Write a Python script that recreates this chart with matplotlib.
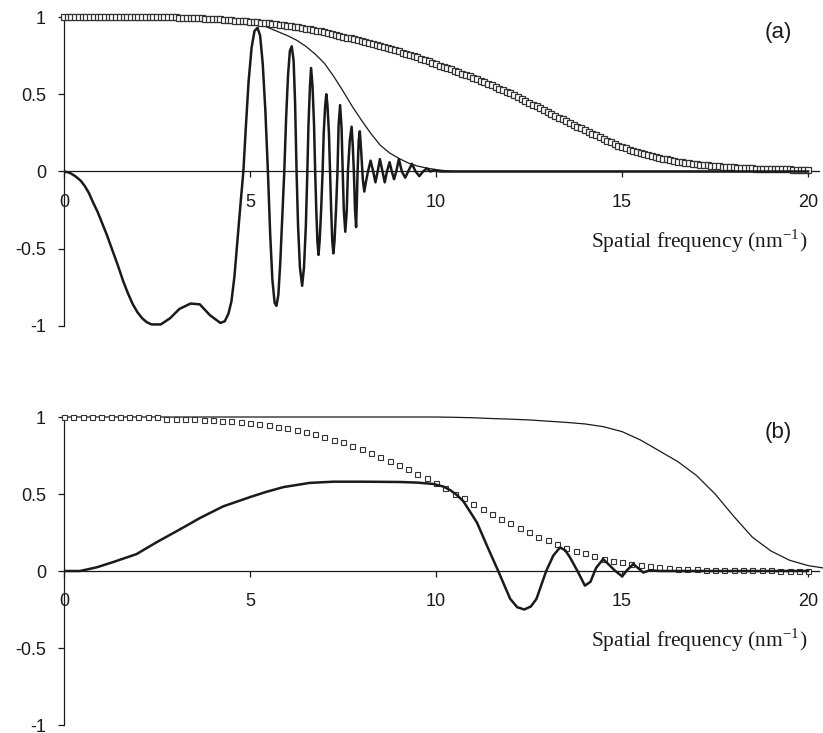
import numpy as np
import matplotlib.pyplot as plt

plt.rcParams['font.family'] = ['Liberation Sans', 'DejaVu Sans']
plt.rcParams['mathtext.fontset'] = 'stix'

# ---------------- panel (a) ----------------
# dense squares curve, x = 0, 0.1, ..., 20
sq_a_x = np.arange(201) * 0.1
sq_a_y = [1.000, 1.000, 1.000, 1.000, 1.000, 1.000, 1.000, 1.000, 1.000, 1.000,
          1.000, 1.000, 1.000, 1.000, 1.000, 1.000, 1.000, 1.000, 1.000, 1.000,
          1.000, 1.000, 1.000, 0.999, 0.999, 0.999, 0.999, 0.998, 0.998, 0.997,
          0.997, 0.996, 0.995, 0.995, 0.994, 0.993, 0.992, 0.991, 0.990, 0.988,
          0.987, 0.986, 0.984, 0.983, 0.981, 0.979, 0.977, 0.976, 0.974, 0.972,
          0.970, 0.968, 0.965, 0.963, 0.961, 0.958, 0.955, 0.953, 0.950, 0.947,
          0.944, 0.940, 0.937, 0.933, 0.929, 0.925, 0.921, 0.916, 0.912, 0.907,
          0.902, 0.896, 0.891, 0.885, 0.879, 0.873, 0.867, 0.861, 0.855, 0.848,
          0.842, 0.836, 0.829, 0.823, 0.816, 0.810, 0.803, 0.797, 0.790, 0.784,
          0.777, 0.769, 0.762, 0.754, 0.746, 0.738, 0.729, 0.721, 0.712, 0.704,
          0.695, 0.686, 0.678, 0.669, 0.661, 0.652, 0.643, 0.634, 0.625, 0.616,
          0.607, 0.597, 0.587, 0.577, 0.567, 0.557, 0.547, 0.536, 0.526, 0.515,
          0.505, 0.493, 0.481, 0.469, 0.457, 0.445, 0.433, 0.421, 0.409, 0.397,
          0.385, 0.373, 0.361, 0.349, 0.337, 0.325, 0.314, 0.302, 0.291, 0.279,
          0.268, 0.256, 0.245, 0.233, 0.222, 0.210, 0.199, 0.189, 0.178, 0.168,
          0.158, 0.150, 0.142, 0.134, 0.126, 0.118, 0.112, 0.106, 0.100, 0.094,
          0.088, 0.083, 0.078, 0.074, 0.069, 0.064, 0.061, 0.057, 0.054, 0.050,
          0.047, 0.045, 0.042, 0.040, 0.037, 0.035, 0.033, 0.031, 0.030, 0.028,
          0.026, 0.025, 0.024, 0.022, 0.021, 0.020, 0.019, 0.018, 0.018, 0.017,
          0.016, 0.015, 0.015, 0.014, 0.014, 0.013, 0.012, 0.012, 0.011, 0.011,
          0.010]

# envelope (thin line)
env_a_x = [0, 2, 4, 4.5, 5, 5.25, 5.5, 5.75, 6, 6.25, 6.5, 6.75, 7, 7.25,
           7.5, 7.75, 8, 8.25, 8.5, 8.75, 9, 9.25, 9.5, 9.75, 10, 10.25,
           10.5, 20]
env_a_y = [1.0, 1.0, 0.99, 0.98, 0.97, 0.955, 0.93, 0.905, 0.88, 0.85,
           0.81, 0.76, 0.70, 0.615, 0.52, 0.42, 0.33, 0.245, 0.17, 0.12,
           0.085, 0.055, 0.035, 0.022, 0.012, 0.005, 0.0, 0.0]

# oscillating CTF (thick line)
ctf_a_x = [0.0, 0.15, 0.3, 0.45, 0.56, 0.67, 0.78, 0.9, 1.0, 1.15, 1.3, 1.45,
           1.59, 1.72, 1.85, 1.97, 2.1, 2.22, 2.35, 2.6, 2.85,
           3.1, 3.4, 3.65, 3.92, 4.2, 4.32, 4.42, 4.5, 4.58, 4.66, 4.74,
           4.82, 4.89, 4.96, 5.04, 5.12, 5.2, 5.27, 5.34, 5.41, 5.48,
           5.54, 5.6, 5.66, 5.71, 5.76, 5.81, 5.86, 5.92,
           5.97, 6.02, 6.07, 6.12, 6.17, 6.21, 6.25,
           6.29, 6.34, 6.4, 6.45, 6.5, 6.54,
           6.57, 6.61, 6.64, 6.68, 6.72, 6.75,
           6.78, 6.81, 6.84, 6.87, 6.91, 6.95,
           6.98, 7.02, 7.05, 7.08, 7.12, 7.15,
           7.18, 7.21, 7.24, 7.27, 7.31, 7.35,
           7.38, 7.42, 7.46, 7.49, 7.52, 7.56,
           7.6, 7.63, 7.68, 7.73, 7.76, 7.79, 7.82, 7.85, 7.87, 7.89, 7.92,
           7.95, 7.99, 8.03, 8.07, 8.12, 8.17, 8.24, 8.31, 8.37, 8.43, 8.49,
           8.56, 8.62, 8.68, 8.75, 8.81, 8.87, 8.93, 9.0, 9.08, 9.17, 9.25,
           9.35, 9.45, 9.55, 9.65, 9.75, 9.85, 9.95, 10.1, 20.0]
ctf_a_y = [0.0, -0.008, -0.03, -0.06, -0.095, -0.14, -0.2, -0.26, -0.32,
           -0.41, -0.51, -0.61, -0.71, -0.79, -0.86, -0.91, -0.95, -0.975,
           -0.99, -0.99, -0.95, -0.89, -0.855, -0.86, -0.93,
           -0.98, -0.97, -0.92, -0.84, -0.68, -0.45, -0.22,
           0.0, 0.3, 0.58, 0.8, 0.91, 0.93, 0.88, 0.7, 0.4, 0.0,
           -0.4, -0.7, -0.85, -0.87, -0.8, -0.6, -0.33, 0.0,
           0.35, 0.62, 0.78, 0.81, 0.72, 0.45, 0.0,
           -0.35, -0.62, -0.74, -0.62, -0.35, 0.0,
           0.3, 0.55, 0.67, 0.55, 0.3, 0.0,
           -0.25, -0.45, -0.54, -0.45, -0.25, 0.0,
           0.25, 0.43, 0.5, 0.43, 0.25, 0.0,
           -0.25, -0.45, -0.53, -0.45, -0.25, 0.0,
           0.3, 0.43, 0.28, 0.0, -0.25, -0.39,
           -0.25, 0.0, 0.2, 0.29, 0.17, 0.0, -0.24, -0.36, -0.2, 0.0, 0.2,
           0.26, 0.12, -0.05, -0.13, -0.06, 0.0, 0.07, 0.0,
           -0.07, 0.0, 0.08, 0.0, -0.07, 0.0, 0.06, 0.0, -0.05, 0.0, 0.08, 0.0,
           -0.04, 0.0, 0.05, 0.0, -0.03, 0.0, 0.02, 0.0, 0.01, 0.0, 0.0]

# ---------------- panel (b) ----------------
# squares, x = 0, 0.25, ..., 20
sq_b_x = np.arange(81) * 0.25
sq_b_y = [1.0, 1.0, 1.0, 1.0, 1.0, 1.0, 1.0, 1.0, 1.0, 1.0, 1.0,
          0.99, 0.99, 0.99, 0.985, 0.98, 0.978, 0.975, 0.971, 0.967, 0.962,
          0.954, 0.946, 0.937, 0.927, 0.916, 0.904, 0.889, 0.87, 0.853, 0.835,
          0.813, 0.79, 0.767, 0.742, 0.717, 0.69, 0.66, 0.63, 0.601, 0.57,
          0.537, 0.502, 0.472, 0.437, 0.405, 0.37, 0.337, 0.31, 0.278, 0.252,
          0.222, 0.2, 0.177, 0.152, 0.131, 0.115, 0.095, 0.078, 0.066, 0.056,
          0.046, 0.04, 0.031, 0.024, 0.019, 0.016, 0.013, 0.011, 0.009, 0.008,
          0.007, 0.006, 0.005, 0.005, 0.004, 0.004, 0.003, 0.003, 0.003, 0.002]

env_b_x = [0, 5, 10, 10.5, 11, 11.5, 12, 12.5, 13, 13.5, 14, 14.5, 15, 15.5,
           16, 16.5, 17, 17.5, 18, 18.5, 19, 19.5, 20, 20.4]
env_b_y = [1.0, 1.0, 1.0, 0.998, 0.995, 0.99, 0.986, 0.981, 0.973, 0.965,
           0.955, 0.937, 0.905, 0.85, 0.78, 0.71, 0.62, 0.5, 0.355, 0.22,
           0.13, 0.07, 0.035, 0.02]

ctf_b_x = [0, 0.43, 0.88, 1.32, 1.95, 2.49, 3.12, 3.66, 4.28, 5.0, 5.45, 5.9,
           6.6, 7.24, 8.0, 9.03, 9.5, 9.93, 10.2, 10.38, 10.55, 10.73, 10.9,
           11.1, 11.37, 11.67, 11.99, 12.18, 12.37, 12.55, 12.7, 12.96, 13.15,
           13.33, 13.47, 13.6, 13.8, 14.0, 14.15, 14.3, 14.49, 14.65, 14.8,
           15.0, 15.15, 15.3, 15.45, 15.57, 15.75, 16.0, 20.0]
ctf_b_y = [0.0, 0.0, 0.024, 0.058, 0.11, 0.187, 0.271, 0.345, 0.42, 0.48,
           0.515, 0.545, 0.572, 0.58, 0.58, 0.578, 0.574, 0.565, 0.548, 0.525,
           0.495, 0.454, 0.39, 0.314, 0.163, 0.0, -0.18, -0.235, -0.25, -0.23,
           -0.18, 0.0, 0.1, 0.153, 0.135, 0.088, 0.0, -0.095, -0.07, 0.02,
           0.077, 0.04, 0.004, -0.035, 0.01, 0.045, 0.015, -0.01, 0.005, 0.0,
           0.0]

ink = '#1a1a1a'

fig = plt.figure(figsize=(8.23, 7.33), dpi=100)
ax_a = fig.add_axes([0.0778, 0.5553, 0.9177, 0.4215])
ax_b = fig.add_axes([0.0778, 0.0109, 0.9177, 0.4202])


def style_axes(ax, tag):
    ax.set_xlim(0, 20.3)
    ax.set_ylim(-1, 1)
    ax.spines['top'].set_visible(False)
    ax.spines['right'].set_visible(False)
    ax.spines['bottom'].set_position(('data', 0))
    for s in ('left', 'bottom'):
        ax.spines[s].set_linewidth(0.9)
        ax.spines[s].set_color(ink)
    ax.set_xticks([0, 5, 10, 15, 20])
    ax.set_xticklabels(['0', '5', '10', '15', '20'])
    ax.set_yticks([-1, -0.5, 0, 0.5, 1])
    ax.set_yticklabels(['-1', '-0.5', '0', '0.5', '1'])
    ax.tick_params(axis='x', direction='out', length=4, width=0.9,
                   labelsize=13, pad=12, colors=ink)
    ax.tick_params(axis='y', direction='out', length=4, width=0.9,
                   labelsize=13, pad=9, colors=ink)
    ax.text(20, -0.45, r'Spatial frequency (nm$^{\mathregular{-1}}$)',
            ha='right', va='center', fontsize=15.5,
            family='Liberation Serif', color=ink)
    ax.text(19.2, 0.9, tag, ha='center', va='center', fontsize=16,
            color=ink)
    ax.patch.set_visible(False)


# panel (a)
ax_a.plot(sq_a_x, sq_a_y, 's', ms=3.8, mfc='white', mec='#333333', mew=0.9,
          clip_on=False, zorder=3)
ax_a.plot(env_a_x, env_a_y, '-', color=ink, lw=0.9, zorder=2)
ax_a.plot(ctf_a_x, ctf_a_y, '-', color=ink, lw=1.8, zorder=4)
style_axes(ax_a, '(a)')

# panel (b)
ax_b.plot(sq_b_x, sq_b_y, 's', ms=3.6, mfc='white', mec='#333333', mew=0.8,
          clip_on=False, zorder=3)
ax_b.plot(env_b_x, env_b_y, '-', color=ink, lw=0.9, clip_on=False, zorder=2)
ax_b.plot(ctf_b_x, ctf_b_y, '-', color=ink, lw=1.8, zorder=4)
style_axes(ax_b, '(b)')

fig.savefig('out.png', dpi=100)
